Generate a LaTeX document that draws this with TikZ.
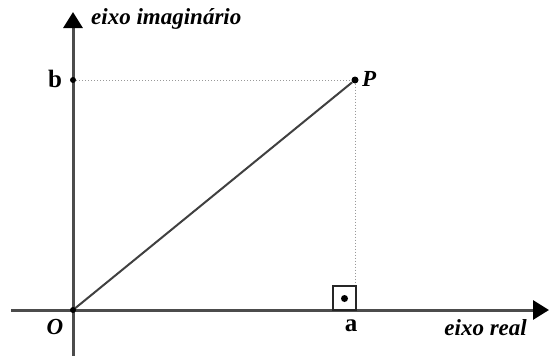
\documentclass[tikz,border=0pt]{standalone}
\usepackage{fontspec}
\setmainfont{Liberation Serif}
\usetikzlibrary{arrows.meta}
\begin{document}
\begin{tikzpicture}[x=1pt,y=-1pt,
  axis/.style={line width=3pt,draw=black!70,-{Triangle[length=16pt,width=19pt,color=black,fill=black]}},
  guide/.style={draw=black!40,line width=1pt,dotted},
  lbl/.style={font=\fontsize{23}{24}\selectfont\bfseries\itshape,inner sep=0pt},
  cst/.style={font=\fontsize{25}{25}\selectfont\bfseries,inner sep=0pt},
  pt/.style={circle,fill=black,inner sep=0pt,minimum size=7pt}]
\useasboundingbox (0,0) rectangle (549,356);
\coordinate (O) at (73,310);
\coordinate (xs) at (11,310);
\coordinate (xe) at (549,310);
\coordinate (ys) at (73,356);
\coordinate (ye) at (73,12);
\coordinate (A) at (355,310);
\coordinate (B) at (73,80);
\node[pt] (P) at (355,80) {};
\draw[guide] (B) -- (P);
\draw[guide] (P) -- (A);
\draw[axis] (xs) -- (xe);
\draw[axis] (ys) -- (ye);
\draw[line width=2pt,black!75] (O) -- (P);
\node[pt,minimum size=6pt] (Bd) at (B) {};
\node[pt,minimum size=6pt] (Od) at (O) {};
\draw[line width=2pt,black!85] (333,310) rectangle (356,286);
\node[pt,minimum size=7pt] (sq) at (344.5,298.5) {};
\node[lbl,anchor=west] (yl) at (91,19) {eixo imaginário};
\node[lbl,anchor=east] (xl) at (527,328) {eixo real};
\node[lbl,anchor=west] (Pl) at (362,79) {P};
\node[lbl] (Ol) at (55,327) {O};
\node[cst] (bl) at (55,79) {b};
\node[cst] (al) at (351,326) {a};
\end{tikzpicture}
\end{document}
